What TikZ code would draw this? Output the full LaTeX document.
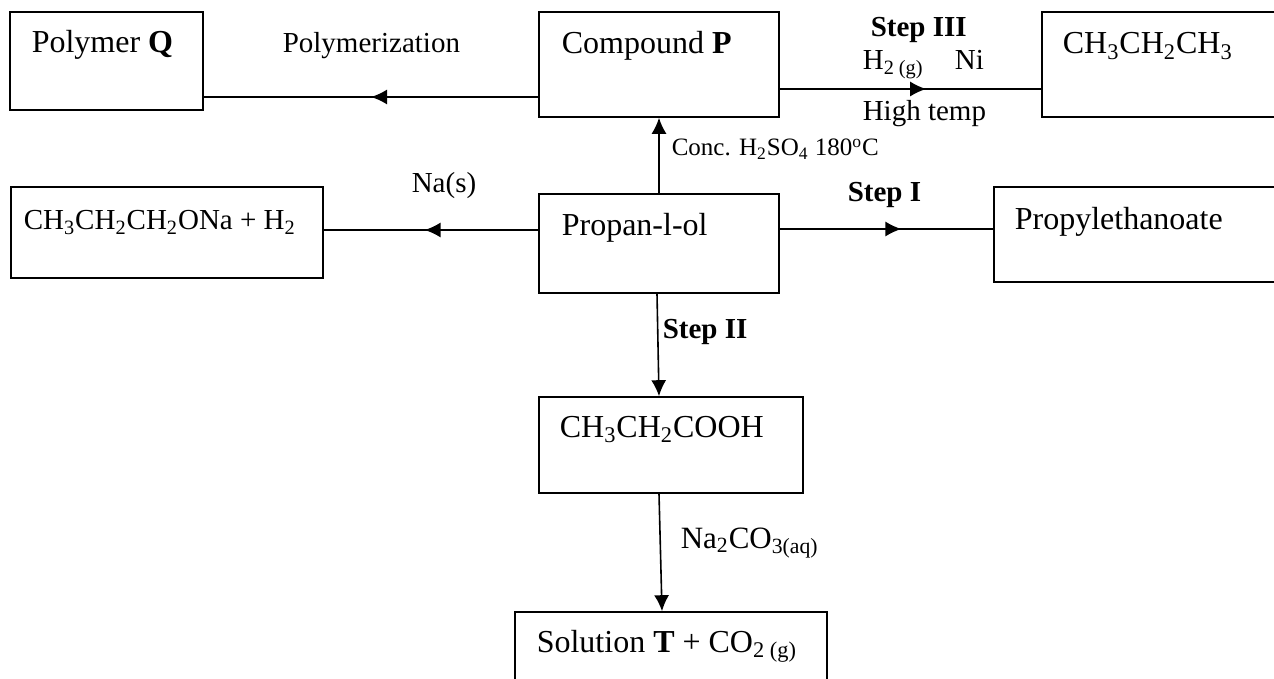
\documentclass[tikz,border=0pt]{standalone}
\usepackage{fontspec}
\setmainfont{Liberation Serif}
\usetikzlibrary{arrows.meta, decorations.markings}

\begin{document}
\begin{tikzpicture}[x=0.5pt, y=-0.5pt, >={Latex[length=8pt,width=7.5pt]}, line width=0.8pt,
    box/.style={draw, inner sep=0pt},
    txt/.style={anchor=base west, inner sep=0pt, font=\fontsize{16}{19}\selectfont},
    lbl/.style={anchor=base west, inner sep=0pt, font=\fontsize{14.5}{17}\selectfont},
    midarrow/.style={postaction={decorate}, decoration={markings,
        mark=at position #1 with {\arrow{Latex[length=8pt,width=7.5pt]}}}}]

\useasboundingbox (0,0) rectangle (1274,679);
\clip (0,0) rectangle (1274,679);

% Kaestchen
\node[box, minimum width=96.5pt, minimum height=49pt] (polyQ) at (106.5,61) {};
\node[box, minimum width=120pt, minimum height=52.5pt] (compP) at (659,64.5) {};
\node[box, minimum width=124pt, minimum height=52.5pt] (propane) at (1166,64.5) {};
\node[box, minimum width=156pt, minimum height=45.5pt] (alkoxide) at (167,232.5) {};
\node[box, minimum width=120pt, minimum height=49.5pt] (propanol) at (659,243.5) {};
\node[box, minimum width=148pt, minimum height=47.5pt] (ester) at (1142,234.5) {};
\node[box, minimum width=132pt, minimum height=48pt] (acid) at (671,445) {};
\node[box, minimum width=156pt, minimum height=44pt] (solT) at (671,656) {};

% Texte in den Kaestchen
\node[txt] (polyQtxt) at (31,53) {Polymer \textbf{Q}};
\node[txt] (compPtxt) at (561,54) {Compound \textbf{P}};
\node[txt] (propanetxt) at (1062,54) {CH\textsubscript{3}CH\textsubscript{2}CH\textsubscript{3}};
\node[txt, font=\fontsize{14.5}{17}\selectfont] (alkoxidetxt) at (23,230) {CH\textsubscript{3}CH\textsubscript{2}CH\textsubscript{2}ONa + H\textsubscript{2}};
\node[txt] (propanoltxt) at (561,235) {Propan-l-ol};
\node[txt] (estertxt) at (1014,230) {Propylethanoate};
\node[txt] (acidtxt) at (559,437) {CH\textsubscript{3}CH\textsubscript{2}COOH};
\node[txt] (solTtxt) at (536,652) {Solution \textbf{T} + CO\textsubscript{2 (g)}};

% Pfeile
\coordinate (yPQ) at (0,97);
\coordinate (yPr) at (0,89);
\coordinate (yNa) at (0,230);
\coordinate (yEs) at (0,229);
\draw[midarrow=0.5] (compP.west |- yPQ) -- (polyQ.east |- yPQ);
\draw[midarrow=0.56] (compP.east |- yPr) -- (propane.west |- yPr);
\draw[midarrow=0.53] (propanol.west |- yNa) -- (alkoxide.east |- yNa);
\draw[midarrow=0.57] (propanol.east |- yEs) -- (ester.west |- yEs);
\draw[->] (propanol.north) -- (compP.south);
\draw[->] ([xshift=-1pt]propanol.south) -- ([xshift=-6pt]acid.north);
\draw[->] ([xshift=-6pt]acid.south) -- ([xshift=-4.5pt]solT.north);

% Beschriftungen
\node[lbl] (polylbl) at (282,53) {Polymerization};
\node[lbl] (step3) at (870,37) {\textbf{Step III}};
\node[lbl] (h2lbl) at (862,70) {H\textsubscript{2 (g)}};
\node[lbl] (nilbl) at (954,70) {Ni};
\node[lbl] (templbl) at (862,121) {High temp};
\node[lbl, font=\fontsize{12.5}{15}\selectfont] (conclbl) at (671,156) {Conc. H\textsubscript{2}SO\textsubscript{4} 180\textsuperscript{o}C};
\node[lbl] (nalbl) at (411,193) {Na(s)};
\node[lbl] (step1) at (847,202) {\textbf{Step I}};
\node[lbl] (step2) at (662,338) {\textbf{Step II}};
\node[lbl, font=\fontsize{15.5}{18}\selectfont] (carblbl) at (680,548) {Na\textsubscript{2}CO\textsubscript{3(aq)}};

\end{tikzpicture}
\end{document}
